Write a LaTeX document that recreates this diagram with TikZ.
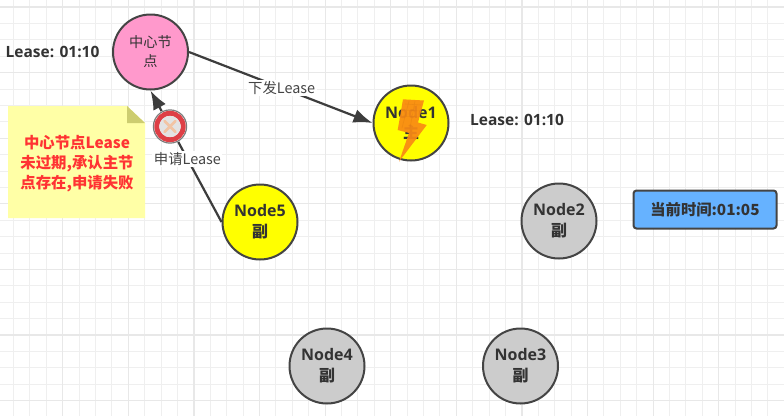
\documentclass[tikz,border=0pt]{standalone}
\usepackage{fontspec}
\setmainfont{Open Sans}
\newfontfamily\cjk{Noto Sans CJK SC}
\newcommand{\zh}[1]{{\cjk #1}}
\definecolor{gridminor}{HTML}{EFEFEF}
\definecolor{gridmajor}{HTML}{E8E8E8}
\definecolor{ink}{HTML}{444444}
\definecolor{txt}{HTML}{333333}
\definecolor{pinknode}{HTML}{FF99CC}
\definecolor{grey}{HTML}{CCCCCC}
\definecolor{yel}{HTML}{FFFF00}
\definecolor{clockblue}{HTML}{66B2FF}
\definecolor{notefill}{HTML}{FFFFA6}
\definecolor{notefold}{HTML}{CDCD70}
\definecolor{alert}{HTML}{FF3333}
\definecolor{bolt}{HTML}{F98A14}
\definecolor{ringred}{HTML}{DE3F46}
\definecolor{crosspeach}{HTML}{F2C4A4}
\usetikzlibrary{arrows.meta}
\tikzset{
  x=1pt, y=-1pt,
  every node/.style={text=txt, font=\fontsize{14}{17}\selectfont},
  peer/.style={circle, draw=ink, line width=2pt, minimum size=75pt, inner sep=0pt, align=center,
               font=\fontsize{16}{21}\selectfont\bfseries},
  hub/.style={peer, fill=pinknode, font=\fontsize{14.2}{19}\selectfont},
  leasetag/.style={font=\fontsize{15.5}{18}\selectfont\bfseries, inner sep=0pt},
  flow/.style={draw=ink!90!black, line width=2.2pt, -{Latex[length=19pt,width=14pt]}},
  flowtag/.style={fill=white, inner sep=1.5pt, text=ink, font=\fontsize{14.4}{16}\selectfont},
}
\begin{document}
\begin{tikzpicture}
\useasboundingbox (0,0) rectangle (784,416);
\fill[white] (0,0) rectangle (784,416);
% background grid: light cells with a stronger line every fourth one
\foreach \k in {-2,...,50} {
  \draw[gridminor, line width=1pt] ({-2.9+16.4*\k},0) -- ++(0,416);
}
\foreach \k in {0,...,26} {
  \draw[gridminor, line width=1pt] (0,{7+16.4*\k}) -- ++(784,0);
}
\foreach \k in {0,...,12} {
  \draw[gridmajor, line width=1.2pt] ({-2.9+65.6*\k},0) -- ++(0,416);
}
\foreach \k in {0,...,6} {
  \draw[gridmajor, line width=1.2pt] (0,{7+65.6*\k}) -- ++(784,0);
}
% sticky note
\fill[notefill] (8,106) -- (127,106) -- (145,123) -- (145,218) -- (8,218) -- cycle;
\fill[notefold] (127,106) -- (145,123) -- (127,123) -- cycle;
\node[name=note, align=center, text=alert, font=\fontsize{15.4}{20}\selectfont\bfseries] at (77,163.5)
  {\zh{中心节点Lease}\\\zh{未过期,承认主节}\\\zh{点存在,申请失败}};
% nodes
\node[hub] (c) at (150.5,52) {\zh{中心节}\\\zh{点}};
\node[peer, fill=yel] (n1) at (411,123) {\raisebox{-1pt}{Node1}\\\zh{主}};
\node[peer, fill=yel] (n5) at (260,222) {\raisebox{-1pt}{Node5}\\\raisebox{-1pt}{\zh{副}}};
\node[peer, fill=grey] (n2) at (559,221) {\raisebox{-1pt}{Node2}\\\raisebox{-1pt}{\zh{副}}};
\node[peer, fill=grey] (n4) at (327,366) {\raisebox{-1pt}{Node4}\\\raisebox{-1pt}{\zh{副}}};
\node[peer, fill=grey] (n3) at (520.5,366) {\raisebox{-1pt}{Node3}\\\raisebox{-1pt}{\zh{副}}};
% connectors
\draw[flow] (c.east) -- (n1.west) node[flowtag, pos=0.505] (t1) {\zh{下发Lease}};
\draw[flow] (n5.west) -- (c.south) node[flowtag, pos=0.48] (t2) {\zh{申请Lease}};
% failure mark on the request line
\fill[white] (170,126.5) circle (17.5);
\draw[draw=ink!70, line width=1.2pt] (170,126.5) circle (16.6);
\draw[draw=ringred, line width=5pt] (170,126.5) circle (13.2);
\fill[gray!22] (170,126.5) circle (10.7);
\draw[draw=crosspeach, line width=2.6pt, line cap=round] (164.5,121) -- (175.5,132) (175.5,121) -- (164.5,132);
% lightning over the struck node
\fill[bolt, opacity=.93] (403,99.3) -- (424,100.5) -- (418,122.5) -- (426.7,125) -- (399,161.7) -- (409,133) -- (397.7,130) -- cycle;
\draw[bolt!85!black, line width=.6pt, opacity=.3] (405,104) -- (421,105) (404,110) -- (420,111) (403,116) -- (419,117) (409,101) -- (402,128) (415,101) -- (410,128);
% lease labels
\node[leasetag, anchor=west] (l1) at (5.5,52) {Lease: 01:10};
\node[leasetag, anchor=west] (l2) at (470,120) {Lease: 01:10};
% current time box
\node[draw=ink, line width=2pt, fill=clockblue, rounded corners=3pt, minimum width=143pt, minimum height=38pt,
      inner sep=0pt, font=\fontsize{15.3}{18}\selectfont\bfseries] (clock) at (705,209.5) {\zh{当前时间:01:05}};
\end{tikzpicture}
\end{document}
